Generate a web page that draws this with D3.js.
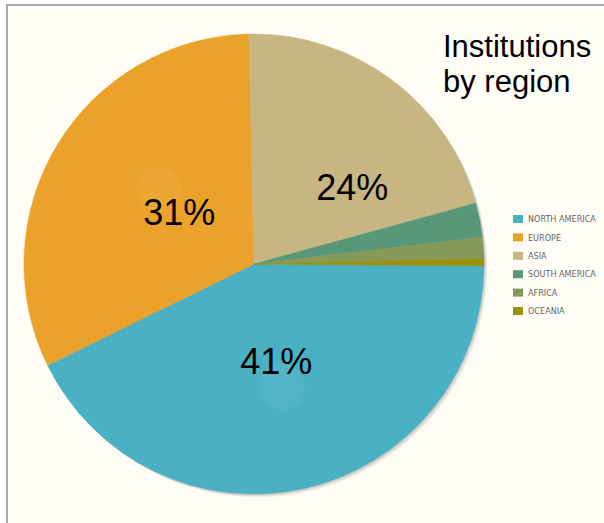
<!DOCTYPE html>
<html>
<head>
<meta charset="utf-8">
<script src="https://cdn.jsdelivr.net/npm/d3@7"></script>
<style>
  html, body { margin: 0; padding: 0; background: #ffffff; }
  svg { display: block; }
</style>
</head>
<body>
<div id="chart"></div>
<script>
// data
var regions = ['NORTH AMERICA', 'EUROPE', 'ASIA', 'SOUTH AMERICA', 'AFRICA', 'OCEANIA'];
var shares = [42.6, 31.9, 21.1, 2.4, 1.5, 0.5];
var pctLabels = ['41%', '31%', '24%', '', '', ''];
var titleLines = ['Institutions', 'by region'];

var colors = ['#4ab1c5', '#eba22b', '#c8b682', '#579878', '#869a58', '#9c900f'];

var width = 604, height = 523;
var cx = 254, cy = 264, R = 230;

var svg = d3.select('#chart')
  .append('svg')
    .attr('width', width)
    .attr('height', height);

// panel (framed at left/top, runs off the right and bottom)
svg.append('rect')
    .attr('x', 7).attr('y', 5)
    .attr('width', width + 10).attr('height', height + 10)
    .attr('fill', '#fffdf5')
    .attr('stroke', '#aaaaaa')
    .attr('stroke-width', 2);

var g = svg.append('g')
    .attr('transform', 'translate(' + cx + ',' + cy + ')');

var deg = Math.PI / 180;
var pie = d3.pie()
    .sort(null)
    .startAngle(90.5 * deg)
    .endAngle(450.5 * deg);

var arcs = pie(shares);
var arc = d3.arc().innerRadius(0).outerRadius(R);

// shadow, a few offset layers down-right
[4.5, 3, 1.5].forEach(function (o) {
  g.append('circle')
      .attr('cx', o * 0.7).attr('cy', o * 0.7)
      .attr('r', R)
      .attr('fill', '#000')
      .attr('opacity', 0.07);
});

g.selectAll('path.slice')
  .data(arcs)
  .enter()
  .append('path')
    .attr('class', 'slice')
    .attr('d', arc)
    .attr('fill', function (d, i) { return colors[i]; })
    .attr('stroke', function (d, i) { return colors[i]; })
    .attr('stroke-width', 0.5);

// where in a slice the label sits: fraction of the sweep, distance from center
var labelAt = [[0.50, 100], [0.53, 91], [0.70, 125]];
function polar(d, f, r) {
  var a = d.startAngle + (d.endAngle - d.startAngle) * f;
  return [Math.sin(a) * r, -Math.cos(a) * r];
}

// faint hover glows left on two slices
var glows = [[0, 0.50, 126], [1, 0.56, 121]];
glows.forEach(function (gl) {
  var p = polar(arcs[gl[0]], gl[1], gl[2]);
  g.append('circle')
      .attr('cx', p[0]).attr('cy', p[1])
      .attr('r', 23)
      .attr('fill', '#ffffff')
      .attr('opacity', 0.045);
});

labelAt.forEach(function (la, i) {
  var p = polar(arcs[i], la[0], la[1]);
  g.append('text')
      .attr('x', p[0])
      .attr('y', p[1])
      .attr('dy', '0.36em')
      .attr('text-anchor', 'middle')
      .attr('font-family', '"Liberation Sans", Arial, sans-serif')
      .attr('font-size', '36px')
      .attr('fill', '#000')
      .text(pctLabels[i]);
});

// title
var title = svg.append('text')
    .attr('x', 443)
    .attr('y', 57)
    .attr('font-family', '"Liberation Sans", Arial, sans-serif')
    .attr('font-size', '31px')
    .attr('fill', '#000');
title.selectAll('tspan')
  .data(titleLines)
  .enter()
  .append('tspan')
    .attr('x', 443)
    .attr('dy', function (d, i) { return i === 0 ? 0 : 35; })
    .text(function (d) { return d; });

// legend
var legend = svg.append('g')
    .attr('transform', 'translate(513, 219)');

var item = legend.selectAll('g.item')
  .data(regions)
  .enter()
  .append('g')
    .attr('class', 'item')
    .attr('transform', function (d, i) { return 'translate(0,' + (i * 18.4) + ')'; });

item.append('rect')
    .attr('x', 0).attr('y', -4)
    .attr('width', 10).attr('height', 8)
    .attr('fill', function (d, i) { return colors[i]; });

item.append('text')
    .attr('x', 15)
    .attr('y', 0)
    .attr('dy', '0.35em')
    .attr('font-family', '"DejaVu Sans Condensed", "DejaVu Sans", sans-serif')
    .attr('font-size', '9px')
    .attr('fill', '#666')
    .text(function (d) { return d; });
</script>
</body>
</html>
